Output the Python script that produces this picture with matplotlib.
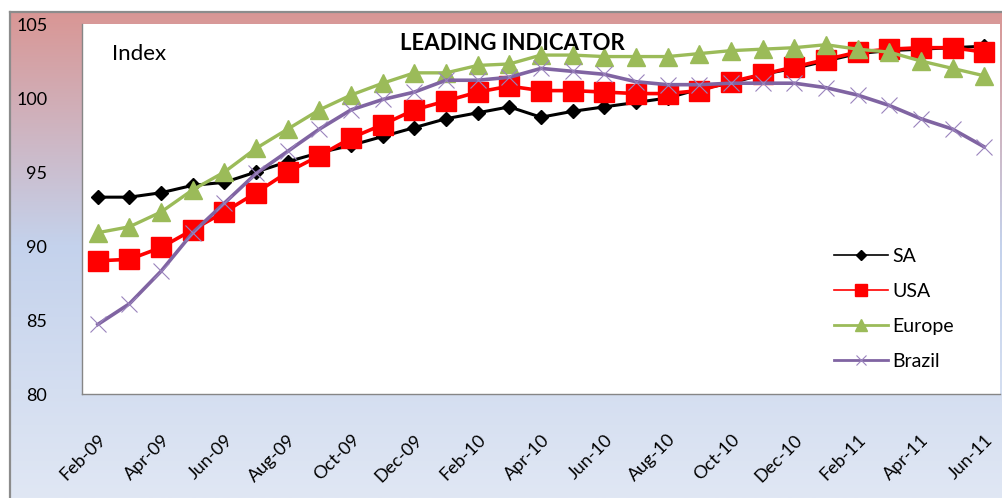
import matplotlib.pyplot as plt
from matplotlib.lines import Line2D
import numpy as np

# monthly leading indicator values, Feb-09 .. Jun-11
months = ['Feb-09', 'Mar-09', 'Apr-09', 'May-09', 'Jun-09', 'Jul-09', 'Aug-09', 'Sep-09',
          'Oct-09', 'Nov-09', 'Dec-09', 'Jan-10', 'Feb-10', 'Mar-10', 'Apr-10', 'May-10',
          'Jun-10', 'Jul-10', 'Aug-10', 'Sep-10', 'Oct-10', 'Nov-10', 'Dec-10', 'Jan-11',
          'Feb-11', 'Mar-11', 'Apr-11', 'May-11', 'Jun-11']

sa = [93.3, 93.3, 93.6, 94.1, 94.3, 95.0, 95.7, 96.3, 96.8, 97.4, 98.0, 98.6, 99.0, 99.4,
      98.7, 99.1, 99.4, 99.7, 100.0, 100.6, 101.0, 101.6, 102.0, 102.5, 103.0, 103.2,
      103.3, 103.4, 103.5]
usa = [89.0, 89.1, 89.9, 91.1, 92.3, 93.6, 95.0, 96.1, 97.3, 98.2, 99.2, 99.8, 100.4, 100.8,
       100.5, 100.5, 100.4, 100.3, 100.3, 100.5, 101.1, 101.6, 102.1, 102.6, 103.1, 103.3,
       103.4, 103.4, 103.1]
europe = [90.9, 91.3, 92.3, 93.8, 95.0, 96.6, 97.9, 99.2, 100.2, 101.0, 101.7, 101.7, 102.2,
          102.3, 102.9, 102.9, 102.8, 102.8, 102.8, 103.0, 103.2, 103.3, 103.4, 103.6, 103.3,
          103.1, 102.5, 102.0, 101.5]
brazil = [84.7, 86.1, 88.3, 90.9, 92.9, 94.9, 96.4, 97.9, 99.2, 99.9, 100.4, 101.2, 101.2,
          101.4, 102.0, 101.8, 101.6, 101.1, 100.9, 100.9, 101.0, 101.0, 101.0, 100.7, 100.2,
          99.5, 98.6, 97.9, 96.7]

W, H = 1002, 498
fig = plt.figure(figsize=(W / 100, H / 100), dpi=100)
plt.rcParams['font.family'] = ['Lato', 'DejaVu Sans']

# gradient chart area background (pink top -> blue -> pale blue bottom)
bg = fig.add_axes([10 / W, 0, 1 - 10 / W, 1 - 12 / H], zorder=-5)
stops_y = [0.0, 0.48, 1.0]
stops_c = np.array([[217, 150, 148], [196, 210, 236], [224, 231, 244]]) / 255
t = np.linspace(0, 1, 300)
grad = np.stack([np.interp(t, stops_y, stops_c[:, k]) for k in range(3)], axis=1)
bg.imshow(grad[:, None, :], aspect='auto', extent=[0, 1, 0, 1])
bg.set_xticks([])
bg.set_yticks([])
for side in ['right', 'bottom']:
    bg.spines[side].set_visible(False)
for side in ['left', 'top']:
    bg.spines[side].set_color('#8c8c8c')
    bg.spines[side].set_linewidth(1.6)

ax = fig.add_axes([82 / W, 1 - 394 / H, 918 / W, 370 / H])
x = np.arange(len(months))

ax.plot(x, sa, color='black', lw=2.2, marker='D', ms=7.5, label='SA')
ax.plot(x, usa, color='#ff0000', lw=2.6, marker='s', ms=14, label='USA')
ax.plot(x, europe, color='#9bbb59', lw=2.4, marker='^', ms=13, label='Europe')
ax.plot(x, brazil, color='#8064a2', lw=2.6, marker='x', ms=11, mew=0.8,
        mec='#9a83bd', label='Brazil')

ax.set_xlim(-0.5, 28.5)
ax.set_ylim(80, 105)
ax.set_yticks([80, 85, 90, 95, 100, 105])
ax.set_xticks(x[::2])
ax.set_xticklabels(months[::2], rotation=45, ha='right', rotation_mode='anchor')
ax.tick_params(axis='both', length=0, labelsize=13)
ax.tick_params(axis='y', pad=25)
ax.tick_params(axis='x', pad=27)
for side in ['top', 'right']:
    ax.spines[side].set_visible(False)
for side in ['left', 'bottom']:
    ax.spines[side].set_color('#868686')
    ax.spines[side].set_linewidth(1.0)

fig.text(112 / W, 1 - 54 / H, 'Index', fontsize=16, va='center', ha='left')
fig.text(512 / W, 1 - 44 / H, 'LEADING INDICATOR', fontsize=16, fontweight='bold',
         ha='center', va='center')

handles = [
    Line2D([], [], color='black', lw=1.2, marker='D', ms=5),
    Line2D([], [], color='#ff0000', lw=1.2, marker='s', ms=8),
    Line2D([], [], color='#9bbb59', lw=2, marker='^', ms=8),
    Line2D([], [], color='#8064a2', lw=2, marker='x', ms=7, mew=0.8, mec='#9a83bd'),
]
ax.legend(handles, ['SA', 'USA', 'Europe', 'Brazil'], loc='upper left',
          bbox_to_anchor=(826 / W, 1 - 240 / H), bbox_transform=fig.transFigure,
          frameon=False, fontsize=14, handlelength=2.8, handletextpad=0.2,
          labelspacing=0.93, borderaxespad=0)

fig.savefig('out.png', dpi=100)
